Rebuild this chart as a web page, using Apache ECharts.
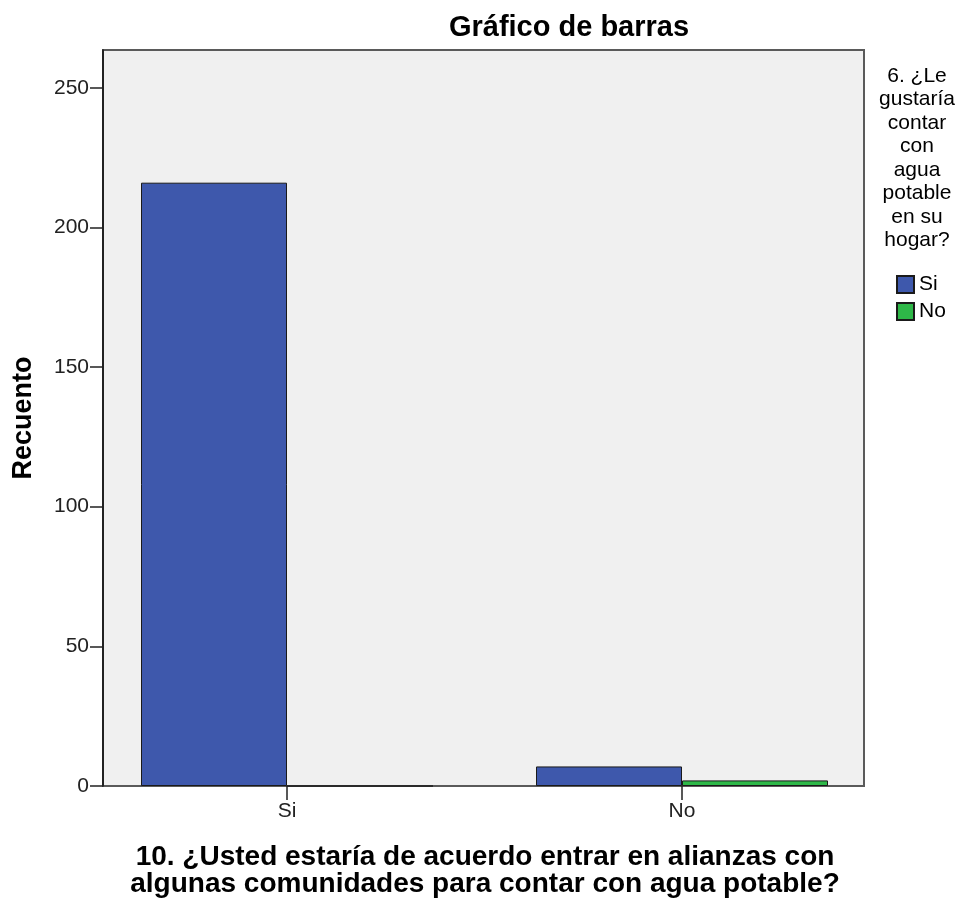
<!DOCTYPE html>
<html>
<head>
<meta charset="utf-8">
<title>Gráfico de barras</title>
<script src="https://cdn.jsdelivr.net/npm/echarts@6/dist/echarts.min.js"></script>
<style>
  html, body { margin: 0; padding: 0; background: #fff; }
  #chart { width: 969px; height: 901px; }
</style>
</head>
<body>
<div id="chart"></div>
<script>
// categorías del eje X (pregunta 10)
const categories = ['Si', 'No']
// series = respuestas de la pregunta 6
const seriesNames = ['Si', 'No']
const valuesSi = [216, 7]
const valuesNo = [0, 2]
const yTicks = [0, 50, 100, 150, 200, 250]

const FONT = '"Liberation Sans", Arial, sans-serif'
const colors = ['#3e58ac', '#2eb848']

const chart = echarts.init(document.getElementById('chart'))

const option = {
  animation: false,
  backgroundColor: '#fff',
  title: [
    {
      text: 'Gráfico de barras',
      left: 569, top: 13, padding: 0,
      textAlign: 'center',
      textStyle: { fontFamily: FONT, fontSize: 29, fontWeight: 'bold', color: '#000', lineHeight: 29 }
    },
    {
      text: '10. ¿Usted estaría de acuerdo entrar en alianzas con\nalgunas comunidades para contar con agua potable?',
      left: 485, top: 844, padding: 0,
      textAlign: 'center',
      textStyle: { fontFamily: FONT, fontSize: 28, fontWeight: 'bold', color: '#000', lineHeight: 27 }
    },
    {
      text: '6. ¿Le\ngustaría\ncontar\ncon\nagua\npotable\nen su\nhogar?',
      left: 917, top: 64, padding: 0,
      textAlign: 'center',
      textStyle: { fontFamily: FONT, fontSize: 21, fontWeight: 'normal', color: '#000', lineHeight: 23.5 }
    }
  ],
  legend: {
    data: seriesNames,
    orient: 'vertical',
    left: 896, top: 274,
    padding: 0,
    itemWidth: 17, itemHeight: 17, itemGap: 6,
    icon: 'rect',
    textStyle: { fontFamily: FONT, fontSize: 21, color: '#000', lineHeight: 17 }
  },
  grid: [
    // marco del gráfico con el eje Y
    {
      left: 103, right: 105, top: 50, bottom: 115,
      show: true, backgroundColor: '#f0f0f0',
      borderColor: '#5a5a5a', borderWidth: 2
    },
    // rejilla de las barras (bandas de categoría)
    { left: 89.5, right: 89.5, top: 50, bottom: 115 }
  ],
  xAxis: [
    { gridIndex: 0, type: 'category', data: categories, show: false },
    {
      gridIndex: 1, type: 'category', data: categories,
      axisLine: { show: false },
      axisTick: { show: true, alignWithLabel: true, length: 14, lineStyle: { color: '#222', width: 1.5 } },
      axisLabel: { fontFamily: FONT, fontSize: 21, color: '#222', margin: 15 },
      splitLine: { show: false }
    }
  ],
  yAxis: [
    {
      gridIndex: 0, type: 'value', min: 0, max: 263.5, interval: 50,
      name: 'Recuento', nameLocation: 'middle', nameGap: 66, nameRotate: 90,
      nameTextStyle: { fontFamily: FONT, fontSize: 27, fontWeight: 'bold', color: '#000' },
      axisLine: { show: true, lineStyle: { color: '#111', width: 1.5 } },
      axisTick: { show: true, length: 13, customValues: yTicks, lineStyle: { color: '#222', width: 1.5 } },
      axisLabel: {
        fontFamily: FONT, fontSize: 21, color: '#222', margin: 14,
        customValues: yTicks
      },
      splitLine: { show: false }
    },
    { gridIndex: 1, type: 'value', min: 0, max: 263.5, show: false, splitLine: { show: false } }
  ],
  series: [
    {
      name: seriesNames[0], type: 'bar', xAxisIndex: 1, yAxisIndex: 1,
      data: valuesSi, barWidth: 146, barGap: '0%',
      itemStyle: { color: colors[0], borderColor: '#1a1a1a', borderWidth: 1 }
    },
    {
      name: seriesNames[1], type: 'bar', xAxisIndex: 1, yAxisIndex: 1,
      data: valuesNo, barWidth: 146, barGap: '0%',
      itemStyle: { color: colors[1], borderColor: '#1a1a1a', borderWidth: 1 }
    }
  ]
}

chart.setOption(option)
</script>
</body>
</html>
